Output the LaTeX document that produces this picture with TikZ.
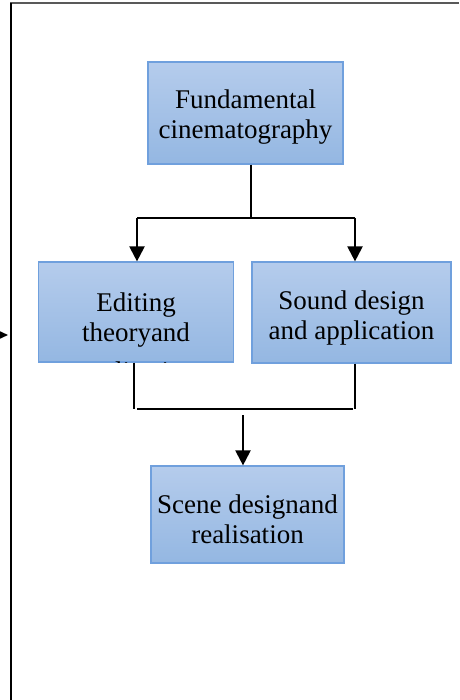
\documentclass[tikz,border=0pt]{standalone}
\usepackage{fontspec}
\setmainfont{Liberation Serif}
\usetikzlibrary{arrows.meta}
\usetikzlibrary{positioning}
\definecolor{mtop}{RGB}{181, 204, 236}
\definecolor{mbottom}{RGB}{148, 183, 226}
\definecolor{mborder}{RGB}{112, 160, 221}
\newcommand{\lifttext}[1]{\rule{0pt}{#1}}
\tikzset{block/.style = {draw = mborder, line width = 1.2pt, top color = mtop, bottom color = mbottom,
    minimum width = 195pt, minimum height = 100pt, inner sep = 0, align = center,
    font = \fontsize{27}{30}\selectfont}}
\tikzset{link/.style = {line width = 1.6pt}}
\tikzset{arr/.style = {line width = 2.2pt, -{Triangle[width = 15pt, length = 15pt]}}}

\begin{document}
\begin{tikzpicture}[x = 1pt, y = -1pt]
      \useasboundingbox (0, 0) rectangle (459, 700);
      \clip (0, 0) rectangle (459, 700);

      % frame of the page
      \draw [black!65, line width = 2pt] (10, 3) -- (459, 3);
      \draw [line width = 1.5pt] (11, 3) -- (11, 700);
      \coordinate (inL) at (-14, 335);
      \coordinate (inR) at (8, 335);
      \draw [line width = 1.5pt, -{Triangle[width = 8pt, length = 9pt]}] (inL) -- (inR);

      \node [block, minimum width = 195pt, minimum height = 102pt] (fund) at (245.5, 113)
        {\lifttext{27pt}Fundamental\\cinematography};
      \node [block] (edit) at (136, 312) {};
      \node [block, minimum width = 199pt, minimum height = 101pt] (sound) at (351.5, 312.5)
        {\lifttext{30pt}Sound design\\and application};
      \node [block, minimum width = 193pt, minimum height = 97pt] (scene) at (247.5, 514.5)
        {\lifttext{28pt}Scene designand\\realisation};

      % text that runs out of its box
      \begin{scope}
        \clip (edit.south west) rectangle (edit.north east);
        \node [align = center, inner sep = 0, font = \fontsize{27}{30}\selectfont] (edittext)
          at (136, 339.5) {Editing\\theoryand\\[9pt]application};
      \end{scope}

      % split below the first box
      \coordinate (split) at (251, 218);
      \draw [link] (fund.south -| split) -- (split);
      \draw [link] ([xshift = 1pt]edit.north |- split) -- ([xshift = 3.5pt]sound.north |- split);
      \draw [arr] ([xshift = 1pt]edit.north |- split) -- ([xshift = 1pt]edit.north);
      \draw [arr] ([xshift = 3.5pt]sound.north |- split) -- ([xshift = 3.5pt]sound.north);

      % join above the last box
      \coordinate (joinL) at (134, 409);
      \coordinate (joinR) at (355, 409);
      \draw [link] (edit.south -| joinL) -- (joinL);
      \draw [link] (sound.south -| joinR) -- (joinR);
      \draw [link] ([xshift = 3pt]joinL) -- ([xshift = -2pt]joinR);
      \coordinate (down) at (243, 415);
      \draw [arr] (down) -- (down |- scene.north);
\end{tikzpicture}
\end{document}
